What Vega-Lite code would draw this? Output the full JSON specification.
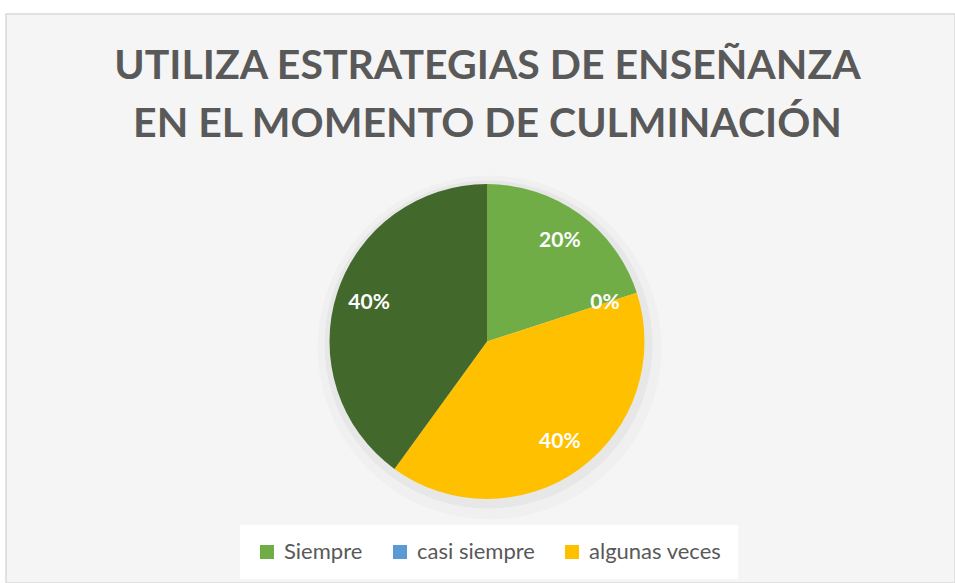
{
  "$schema": "https://vega.github.io/schema/vega-lite/v6.json",
  "width": 949,
  "height": 569,
  "autosize": "none",
  "padding": {"left": 6, "top": 14, "right": 0, "bottom": 0},
  "background": "white",
  "view": {"fill": "#f5f5f5", "stroke": "#d9d9d9", "strokeWidth": 1.5},
  "config": {
    "view": {"fill": "#f5f5f5", "stroke": "#d9d9d9", "strokeWidth": 1.5},
    "font": "Lato"
  },
  "title": {
    "text": ["UTILIZA ESTRATEGIAS DE ENSEÑANZA", "EN EL MOMENTO DE CULMINACIÓN"],
    "orient": "top",
    "anchor": "middle",
    "frame": "group",
    "baseline": "top",
    "offset": -132,
    "dx": 7,
    "font": "Lato",
    "fontSize": 41,
    "fontWeight": "bold",
    "color": "#595959",
    "lineHeight": 58
  },
  "data": {
    "values": [
      {"categoria": "Siempre", "valor": 0.2, "orden": 1},
      {"categoria": "casi siempre", "valor": 0.0, "orden": 2},
      {"categoria": "algunas veces", "valor": 0.4, "orden": 3},
      {"categoria": "nunca", "valor": 0.4, "orden": 4}
    ]
  },
  "encoding": {
    "theta": {"field": "valor", "type": "quantitative", "stack": true},
    "order": {"field": "orden", "type": "quantitative"}
  },
  "layer": [
    {
      "mark": {"type": "arc", "outerRadius": 172, "xOffset": 9, "yOffset": 49, "fill": "#000000", "opacity": 0.02},
      "encoding": {}
    },
    {
      "mark": {"type": "arc", "outerRadius": 164, "xOffset": 8, "yOffset": 46, "fill": "#000000", "opacity": 0.035},
      "encoding": {}
    },
    {
      "mark": {"type": "arc", "outerRadius": 157.5, "xOffset": 6.5, "yOffset": 43},
      "encoding": {
        "color": {
          "field": "categoria",
          "type": "nominal",
          "scale": {
            "domain": ["Siempre", "casi siempre", "algunas veces", "nunca"],
            "range": ["#70AD47", "#5B9BD5", "#FFC000", "#43682B"]
          },
          "legend": {
            "values": ["Siempre", "casi siempre", "algunas veces"],
            "title": null,
            "orient": "none",
            "direction": "horizontal",
            "legendX": 234,
            "legendY": 511,
            "padding": 16,
            "fillColor": "white",
            "symbolType": "square",
            "symbolSize": 196,
            "symbolStrokeWidth": 0,
            "symbolOffset": 0,
            "labelFont": "Lato",
            "labelFontSize": 22,
            "labelColor": "#595959",
            "labelOffset": 6,
            "columnPadding": 26,
            "labelLimit": 300
          }
        }
      }
    },
    {
      "mark": {"type": "text", "radius": 124, "xOffset": 6.5, "yOffset": 43, "font": "Lato", "fontSize": 21, "fontWeight": "bold", "color": "white"},
      "encoding": {
        "text": {"field": "valor", "type": "quantitative", "format": ".0%"}
      }
    }
  ]
}
